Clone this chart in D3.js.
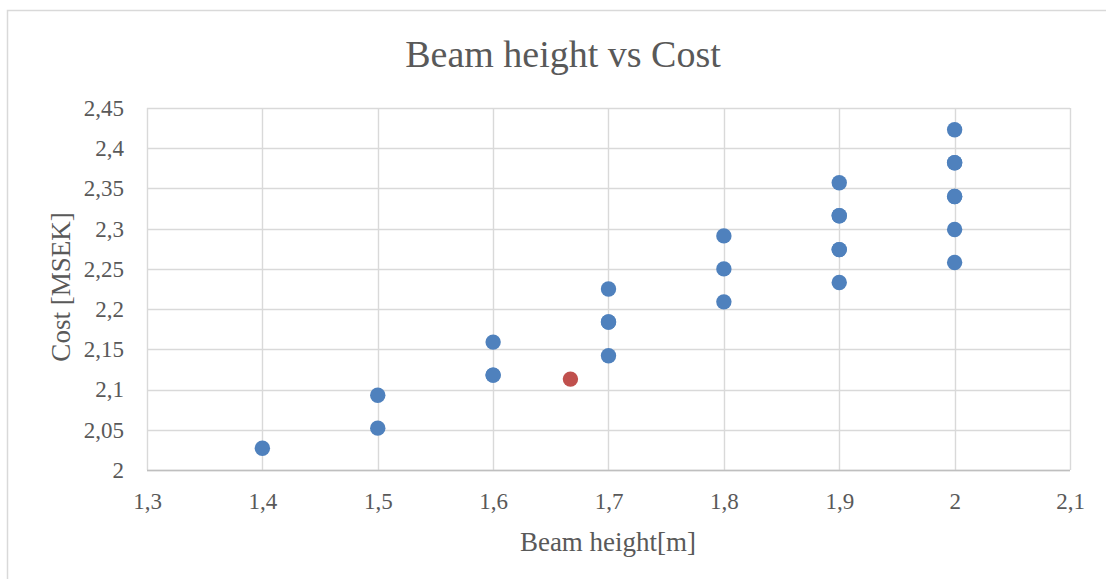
<!DOCTYPE html>
<html>
<head>
<meta charset="utf-8">
<script src="https://cdn.jsdelivr.net/npm/d3@7"></script>
<style>
  html, body { margin: 0; padding: 0; background: #fff; }
  svg { display: block; }
  text { font-family: "Liberation Serif", "Times New Roman", serif; fill: #595959; }
</style>
</head>
<body>
<svg id="chart" width="1106" height="579"></svg>
<script>
// Beam height [m] and cost [MSEK] for each evaluated design
const beamHeights = [1.4, 1.5, 1.5, 1.6, 1.6, 1.6, 1.7, 1.7, 1.7, 1.7,
                     1.8, 1.8, 1.8, 1.9, 1.9, 1.9, 1.9, 1.9, 1.9,
                     2.0, 2.0, 2.0, 2.0, 2.0, 2.0, 2.0];
const costs       = [2.027, 2.052, 2.093, 2.118, 2.118, 2.159, 2.142, 2.184, 2.184, 2.225,
                     2.209, 2.250, 2.291, 2.233, 2.274, 2.274, 2.316, 2.316, 2.357,
                     2.258, 2.299, 2.340, 2.340, 2.382, 2.382, 2.423];

// Selected design
const optimumHeight = [1.667];
const optimumCost   = [2.113];

const xTicks = [1.3, 1.4, 1.5, 1.6, 1.7, 1.8, 1.9, 2.0, 2.1];
const yTicks = [2, 2.05, 2.1, 2.15, 2.2, 2.25, 2.3, 2.35, 2.4, 2.45];

const chartTitle = "Beam height vs Cost";
const xTitle = "Beam height[m]";
const yTitle = "Cost [MSEK]";

const svg = d3.select("#chart");
const W = 1106, H = 579;
const plot = { left: 147, right: 1070, top: 108, bottom: 470 };

// Outer chart frame
svg.append("rect")
  .attr("x", 7.5).attr("y", 10.5)
  .attr("width", W + 20).attr("height", H + 20)
  .attr("fill", "#fff").attr("stroke", "#d9d9d9").attr("stroke-width", 1.5);

const x = d3.scaleLinear().domain([1.3, 2.1]).range([plot.left, plot.right]);
const y = d3.scaleLinear().domain([2, 2.45]).range([plot.bottom, plot.top]);

const fmt = d => String(+d.toFixed(2)).replace(".", ",");

// Gridlines
const grid = svg.append("g");
grid.selectAll("line.h").data(yTicks).join("line")
  .attr("x1", plot.left).attr("x2", plot.right)
  .attr("y1", d => Math.round(y(d)) + 0.5).attr("y2", d => Math.round(y(d)) + 0.5)
  .attr("stroke", "#d9d9d9").attr("stroke-width", 1.4);
grid.selectAll("line.v").data(xTicks).join("line")
  .attr("y1", plot.top).attr("y2", plot.bottom)
  .attr("x1", d => Math.round(x(d)) + 0.5).attr("x2", d => Math.round(x(d)) + 0.5)
  .attr("stroke", "#d9d9d9").attr("stroke-width", 1.4);

// Horizontal axis line
svg.append("line")
  .attr("x1", plot.left).attr("x2", plot.right)
  .attr("y1", Math.round(y(2)) + 0.5).attr("y2", Math.round(y(2)) + 0.5)
  .attr("stroke", "#bfbfbf").attr("stroke-width", 1.5);

// Axes (labels only; lines drawn above)
const xAxis = svg.append("g")
  .attr("transform", `translate(0,${plot.bottom})`)
  .call(d3.axisBottom(x).tickValues(xTicks).tickFormat(fmt).tickSize(0).tickPadding(23));
const yAxis = svg.append("g")
  .attr("transform", `translate(${plot.left},0)`)
  .call(d3.axisLeft(y).tickValues(yTicks).tickFormat(fmt).tickSize(0).tickPadding(23));
[xAxis, yAxis].forEach(a => {
  a.select(".domain").remove();
  a.selectAll("text")
    .attr("font-family", "Liberation Serif, serif")
    .attr("font-size", 23).attr("fill", "#595959");
});

// Titles
svg.append("text")
  .attr("x", 563).attr("y", 67)
  .attr("text-anchor", "middle").attr("font-size", 38)
  .text(chartTitle);
svg.append("text")
  .attr("x", 608).attr("y", 551)
  .attr("text-anchor", "middle").attr("font-size", 27)
  .text(xTitle);
svg.append("text")
  .attr("transform", "translate(70,287) rotate(-90)")
  .attr("text-anchor", "middle").attr("font-size", 27)
  .text(yTitle);

// Points
const pts = beamHeights.map((h, i) => ({ h, c: costs[i] }));
svg.append("g").selectAll("circle").data(pts).join("circle")
  .attr("cx", d => x(d.h)).attr("cy", d => y(d.c)).attr("r", 7.7)
  .attr("fill", "#4f81bd");

svg.append("g").selectAll("circle")
  .data(optimumHeight.map((h, i) => ({ h, c: optimumCost[i] }))).join("circle")
  .attr("cx", d => x(d.h)).attr("cy", d => y(d.c)).attr("r", 7.7)
  .attr("fill", "#c0504d");
</script>
</body>
</html>
